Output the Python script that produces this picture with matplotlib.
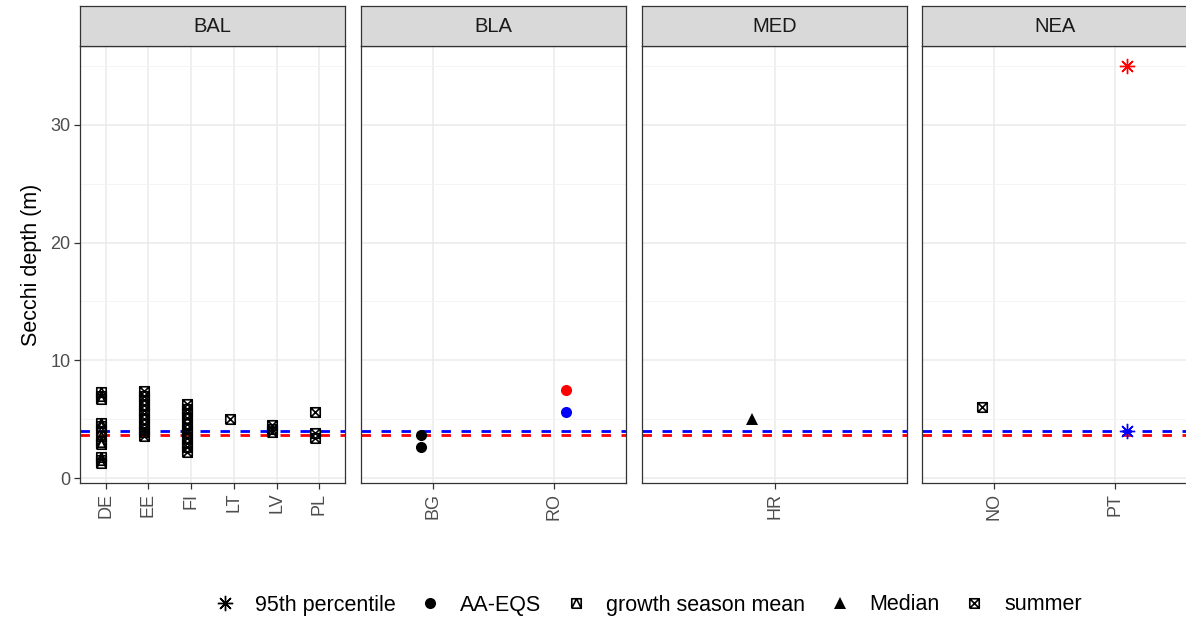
import numpy as np
import matplotlib.pyplot as plt
from matplotlib.path import Path
from matplotlib.lines import Line2D

plt.rcParams['font.family'] = ['Liberation Sans', 'DejaVu Sans']

# ---- data ----
regions = ['BAL', 'BLA', 'MED', 'NEA']
countries = {
    'BAL': ['DE', 'EE', 'FI', 'LT', 'LV', 'PL'],
    'BLA': ['BG', 'RO'],
    'MED': ['HR'],
    'NEA': ['NO', 'PT'],
}

de_gsm = [7.3, 7.0, 6.7, 4.7, 4.4, 4.0, 3.6, 3.1, 2.9, 1.8, 1.5, 1.27]
ee_summer = [7.4, 7.0, 6.6, 6.2, 5.8, 5.4, 5.0, 4.6, 4.2, 3.9, 3.6]
fi_summer = [6.3, 5.9, 5.5, 5.1, 4.6, 4.2, 3.8, 3.4, 3.0, 2.6, 2.2]
lt_summer = [5.0]
lv_summer = [4.5, 4.2, 3.9]
pl_summer = [5.6, 3.8, 3.4]
bg_aaeqs = [3.7, 2.6]
ro_aaeqs_red = [7.5]
ro_aaeqs_blue = [5.6]
hr_median = [5.0]
no_summer = [6.0]
pt_p95_red = [35.0]
pt_p95_blue = [4.0]

# (region, country, type, colour, values)
series = [
    ('BAL', 'DE', 'growth season mean', 'black', de_gsm),
    ('BAL', 'EE', 'summer', 'black', ee_summer),
    ('BAL', 'FI', 'summer', 'black', fi_summer),
    ('BAL', 'LT', 'summer', 'black', lt_summer),
    ('BAL', 'LV', 'summer', 'black', lv_summer),
    ('BAL', 'PL', 'summer', 'black', pl_summer),
    ('BLA', 'BG', 'AA-EQS', 'black', bg_aaeqs),
    ('BLA', 'RO', 'AA-EQS', 'red', ro_aaeqs_red),
    ('BLA', 'RO', 'AA-EQS', 'blue', ro_aaeqs_blue),
    ('MED', 'HR', 'Median', 'black', hr_median),
    ('NEA', 'NO', 'summer', 'black', no_summer),
    ('NEA', 'PT', '95th percentile', 'red', pt_p95_red),
    ('NEA', 'PT', '95th percentile', 'blue', pt_p95_blue),
]

ref_red = 3.7
ref_blue = 4.0

legend_types = ['95th percentile', 'AA-EQS', 'growth season mean', 'Median', 'summer']

# ---- markers ----
sq = [(-1, -1), (1, -1), (1, 1), (-1, 1), (-1, -1)]
sq_codes = [Path.MOVETO] + [Path.LINETO] * 4
square_x = Path(sq + [(-1, -1), (1, 1), (-1, 1), (1, -1)],
                sq_codes + [Path.MOVETO, Path.LINETO, Path.MOVETO, Path.LINETO])
square_tri = Path(sq + [(-1, -1), (0, 1), (1, -1)],
                  sq_codes + [Path.MOVETO, Path.LINETO, Path.LINETO])

styles = {
    '95th percentile': dict(marker=(8, 2, 0), ms=11, mew=1.0, mfc='none'),
    'AA-EQS': dict(marker='o', ms=8, mew=0),
    'growth season mean': dict(marker=square_tri, ms=6.8, mew=1.2, mfc='none'),
    'Median': dict(marker='^', ms=8.5, mew=0),
    'summer': dict(marker=square_x, ms=6.8, mew=1.2, mfc='none'),
}
dodge = {'black': -0.1, 'red': 0.1, 'blue': 0.1}

# y range like ggplot expand
allv = np.concatenate([s[4] for s in series])
span = allv.max() - allv.min()
ylo = allv.min() - 0.05 * span
yhi = allv.max() + 0.05 * span

W, H = 1186, 621
fig = plt.figure(figsize=(W / 100, H / 100), dpi=100)
fig.patch.set_facecolor('white')

lefts = [80, 361, 642, 922]
pw = 265
ptop, pbot = 46, 483
strip_h = 40
txtc = '#4D4D4D'

for i, reg in enumerate(regions):
    ax = fig.add_axes([lefts[i] / W, (H - pbot) / H, pw / W, (pbot - ptop) / H])
    cats = countries[reg]
    n = len(cats)
    ax.set_xlim(0.4, n + 0.6)
    ax.set_ylim(ylo, yhi)
    ax.set_yticks([0, 10, 20, 30])
    ax.set_yticks([5, 15, 25, 35], minor=True)
    ax.set_xticks(np.arange(1, n + 1))
    ax.set_xticklabels(cats, rotation=90)
    ax.grid(True, which='major', color='#EBEBEB', lw=1.1, zorder=0)
    ax.grid(True, which='minor', axis='y', color='#F2F2F2', lw=0.6, zorder=0)
    ax.set_axisbelow(True)
    for sp in ax.spines.values():
        sp.set_color('#333333')
        sp.set_linewidth(0.9)
    ax.tick_params(which='major', length=4, width=0.9, color='#333333',
                   labelsize=13, labelcolor=txtc, pad=3)
    ax.tick_params(which='minor', length=0)
    if i > 0:
        ax.tick_params(axis='y', left=False, labelleft=False)
    else:
        ax.set_ylabel('Secchi depth (m)', fontsize=15.5, color='black', labelpad=6)

    ax.axhline(ref_red, color='red', lw=2.0, ls=(0, (3.4, 3.8)), zorder=2)
    ax.axhline(ref_blue, color='blue', lw=2.0, ls=(0, (3.4, 3.8)), zorder=2)

    for reg_s, ctry, typ, col, vals in series:
        if reg_s != reg:
            continue
        x = cats.index(ctry) + 1 + dodge[col]
        st = styles[typ]
        ax.plot([x] * len(vals), vals, ls='none', color=col, mec=col,
                zorder=3, **st)

    # facet strip
    sax = fig.add_axes([lefts[i] / W, (H - ptop) / H, pw / W, strip_h / H])
    sax.set_facecolor('#D9D9D9')
    sax.set_xticks([])
    sax.set_yticks([])
    for sp in sax.spines.values():
        sp.set_color('#333333')
        sp.set_linewidth(0.9)
    sax.text(0.5, 0.5, reg, ha='center', va='center', fontsize=14.5,
             color='#1A1A1A', transform=sax.transAxes)

handles = []
for typ in legend_types:
    st = dict(styles[typ])
    handles.append(Line2D([], [], ls='none', color='black', mec='black', **st))
fig.legend(handles, legend_types, loc='center', ncol=5, frameon=False,
           bbox_to_anchor=(647 / W, (H - 605) / H), fontsize=15.5,
           handletextpad=0.8, columnspacing=1.0, handlelength=1.2)

fig.savefig('out.png', dpi=100)
